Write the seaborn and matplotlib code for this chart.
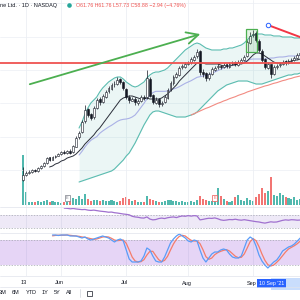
import numpy as np
import pandas as pd
import matplotlib
matplotlib.use("Agg")
import matplotlib.pyplot as plt
from matplotlib.lines import Line2D
from matplotlib.patches import Rectangle
import seaborn as sns

sns.set_theme(style="white")
plt.rcParams["font.family"] = ["Liberation Sans", "DejaVu Sans"]

# daily bars, 12 May - 24 Sep 2021
holidays = pd.to_datetime(["2021-05-31", "2021-07-05", "2021-09-06"])
dates = pd.bdate_range("2021-05-12", "2021-09-24")
dates = dates[~dates.isin(holidays)]

opens = [27.0, 28.6, 29.0, 29.5, 30.1, 29.8, 30.5, 31.3, 32.0, 33.8,
         33.1, 33.8, 34.3, 34.9, 35.5, 35.0, 35.8, 35.4, 37.0, 39.8,
         41.3, 44.6, 48.2, 46.8, 45.8, 48.5, 51.2, 50.3, 52.0, 53.6,
         54.4, 55.7, 55.9, 57.2, 56.5, 54.4, 52.0, 50.8, 51.4, 50.2,
         50.6, 52.0, 51.8, 57.4, 52.4, 50.2, 51.2, 49.7, 50.3, 51.7,
         54.2, 56.0, 58.0, 58.6, 60.8, 61.0, 61.9, 62.3, 63.1, 64.1,
         65.6, 59.3, 59.0, 57.5, 58.9, 60.1, 60.8, 61.3, 60.8, 61.7,
         61.0, 61.9, 62.3, 61.6, 62.5, 62.9, 64.1, 68.2, 70.4, 71.0,
         68.8, 65.8, 63.2, 60.7, 61.76, 58.7, 61.0, 61.4, 61.7, 62.6,
         62.0, 62.8, 63.1, 63.5, 64.6]
highs = [31.0, 29.6, 29.9, 30.4, 30.4, 31.0, 31.6, 32.5, 34.0, 34.0,
         34.3, 34.6, 35.2, 35.8, 35.9, 36.1, 36.2, 37.6, 40.2, 41.8,
         45.0, 49.5, 48.6, 47.2, 49.2, 51.6, 51.8, 52.8, 54.0, 55.2,
         56.1, 56.6, 57.8, 57.6, 56.8, 54.6, 52.6, 52.0, 51.9, 51.3,
         52.6, 52.4, 60.0, 57.8, 52.9, 51.8, 51.5, 50.7, 52.4, 54.6,
         56.6, 58.4, 59.4, 61.2, 61.7, 62.3, 62.6, 63.8, 64.5, 66.2,
         65.9, 60.2, 59.5, 59.3, 60.8, 61.2, 61.7, 61.6, 62.0, 61.9,
         62.3, 62.6, 62.6, 62.9, 63.5, 64.4, 69.0, 71.4, 71.9, 71.6,
         69.2, 66.2, 63.5, 62.4, 61.76, 61.4, 61.8, 62.3, 62.9, 63.0,
         63.2, 63.5, 64.1, 65.0, 65.7]
lows = [26.8, 28.3, 28.8, 29.2, 29.3, 29.5, 30.2, 31.0, 31.8, 32.6,
        32.9, 33.6, 34.1, 34.6, 34.7, 34.8, 34.7, 35.2, 36.8, 39.3,
        41.0, 44.2, 46.0, 44.9, 45.4, 48.2, 49.6, 50.0, 51.6, 53.2,
        54.0, 55.0, 55.5, 55.9, 54.0, 51.2, 50.2, 50.6, 49.6, 49.6,
        50.3, 51.0, 51.4, 51.8, 49.8, 49.8, 49.0, 49.2, 50.0, 51.4,
        53.8, 55.6, 57.6, 58.2, 60.4, 60.6, 61.4, 61.9, 62.8, 63.6,
        58.6, 57.8, 56.6, 57.0, 58.4, 59.8, 60.3, 60.3, 60.5, 60.7,
        60.6, 61.4, 61.2, 61.2, 62.1, 62.6, 63.8, 67.7, 69.8, 68.4,
        65.4, 62.4, 60.2, 60.4, 57.73, 58.4, 60.4, 61.0, 61.4, 61.5,
        61.7, 62.4, 62.8, 63.2, 64.2]
closes = [28.5, 29.1, 29.4, 30.0, 29.7, 30.6, 31.2, 32.1, 33.6, 33.0,
          33.9, 34.2, 34.8, 35.4, 35.1, 35.7, 35.1, 37.2, 39.6, 41.1,
          44.4, 48.0, 46.5, 45.6, 48.6, 51.0, 50.4, 52.2, 53.4, 54.6,
          55.5, 55.8, 57.0, 56.4, 54.6, 51.9, 51.0, 51.3, 50.4, 50.7,
          51.9, 51.6, 57.6, 52.2, 50.4, 51.0, 49.8, 50.1, 51.9, 54.0,
          56.1, 57.9, 58.8, 60.6, 61.2, 61.8, 62.1, 63.3, 63.9, 65.4,
          59.4, 58.8, 57.6, 58.8, 60.3, 60.6, 61.2, 60.9, 61.5, 61.2,
          61.8, 62.1, 61.8, 62.4, 63.0, 63.9, 68.4, 70.2, 70.8, 69.0,
          66.0, 63.0, 60.9, 61.8, 58.88, 60.9, 61.2, 61.8, 62.4, 62.1,
          62.7, 63.0, 63.6, 64.5, 65.1]
volume_m = [10.0, 2.6, 0.6, 0.6, 0.6, 0.8, 0.6, 0.8, 1.0, 0.6,
            0.8, 0.6, 0.6, 0.4, 0.6, 0.6, 0.8, 1.4, 1.2, 1.8,
            1.2, 2.2, 1.2, 0.8, 1.0, 1.0, 0.8, 1.0, 0.8, 0.8,
            1.0, 0.8, 0.6, 0.8, 1.4, 1.6, 1.2, 0.8, 1.0, 0.6,
            0.6, 0.6, 1.8, 1.2, 1.0, 0.8, 0.6, 0.6, 0.8, 1.0,
            1.0, 0.8, 0.8, 0.6, 0.8, 0.6, 0.6, 0.8, 0.6, 1.0,
            1.8, 1.2, 1.0, 0.8, 0.8, 1.2, 3.4, 1.8, 1.2, 0.8,
            0.6, 0.8, 1.6, 2.0, 1.0, 0.8, 1.4, 1.0, 0.8, 1.6,
            2.2, 3.4, 2.4, 2.8, 5.6, 2.0, 1.8, 2.4, 2.0, 1.6,
            1.4, 1.2, 1.6, 1.0, 1.2]

# black moving average (from bar 9)
ma_fast = [30.9, 31.2, 31.8, 32.1, 32.7, 33.0, 33.6, 33.9, 34.2, 34.8,
           35.7, 36.6, 37.8, 38.7, 39.6, 40.5, 41.7, 42.6, 43.8, 45.0,
           46.2, 47.4, 48.6, 49.8, 51.0, 51.6, 51.9, 52.2, 52.2, 51.9,
           51.6, 51.3, 51.3, 51.6, 51.3, 51.3, 51.3, 51.3, 51.6, 52.2,
           52.8, 53.7, 54.6, 55.5, 56.7, 57.6, 58.5, 59.4, 60.3, 61.2,
           62.1, 62.1, 62.1, 61.8, 61.8, 61.8, 61.8, 61.8, 61.5, 61.2,
           61.2, 61.2, 61.5, 61.5, 61.8, 61.8, 62.1, 62.7, 63.6, 64.5,
           65.1, 65.1, 64.8, 64.2, 63.6, 63.0, 62.4, 62.1, 62.1, 62.1,
           62.4, 62.4, 62.7, 63.0, 63.0, 63.3]
# Bollinger bands (from bar 19)
bb_upper = [42.6, 44.4, 46.8, 48.6, 50.1, 51.0, 51.9, 53.4, 54.6, 55.5,
            56.4, 57.0, 57.6, 57.9, 57.9, 57.3, 56.4, 55.8, 55.2, 54.9,
            55.2, 55.8, 56.4, 57.6, 58.5, 59.1, 59.4, 59.4, 59.7, 60.0,
            60.6, 61.5, 62.4, 63.3, 64.2, 65.1, 66.0, 66.6, 67.2, 67.8,
            68.1, 67.8, 67.2, 66.6, 66.3, 66.0, 66.0, 66.0, 66.0, 66.3,
            66.3, 66.6, 66.6, 66.9, 67.2, 67.5, 68.1, 69.0, 69.9, 70.5,
            70.8, 70.8, 70.8, 70.5, 70.5, 70.5, 70.2, 70.2, 70.2, 69.9,
            69.9, 69.9, 69.9, 69.6, 69.6, 69.6]
bb_basis = [34.5, 35.6, 36.9, 38.0, 38.9, 39.5, 40.0, 41.0, 41.7, 42.3,
            42.9, 43.4, 44.0, 44.6, 45.0, 45.2, 45.3, 45.5, 45.9, 46.5,
            47.6, 48.8, 50.0, 51.3, 52.5, 53.2, 53.6, 53.6, 53.6, 53.6,
            53.7, 54.0, 54.3, 54.6, 55.0, 55.5, 56.0, 56.4, 56.8, 57.3,
            57.8, 58.0, 58.2, 58.4, 58.6, 59.0, 59.4, 59.8, 60.2, 60.6,
            60.9, 61.2, 61.4, 61.6, 62.0, 62.1, 62.4, 62.8, 63.2, 63.3,
            63.3, 63.3, 63.3, 63.3, 63.4, 63.6, 63.6, 63.8, 63.9, 63.9,
            64.0, 64.2, 64.2, 64.2, 64.2, 64.4]
bb_lower = [26.4, 26.7, 27.0, 27.3, 27.6, 27.9, 28.2, 28.5, 28.8, 29.1,
            29.4, 29.7, 30.3, 31.2, 32.1, 33.0, 34.2, 35.1, 36.6, 38.1,
            39.9, 41.7, 43.5, 45.0, 46.5, 47.4, 47.7, 47.7, 47.4, 47.1,
            46.8, 46.5, 46.2, 45.9, 45.9, 45.9, 45.9, 46.2, 46.5, 46.8,
            47.4, 48.3, 49.2, 50.1, 51.0, 51.9, 52.8, 53.7, 54.3, 54.9,
            55.5, 55.8, 56.1, 56.4, 56.7, 56.7, 56.7, 56.7, 56.4, 56.1,
            55.8, 55.8, 55.8, 56.1, 56.4, 56.7, 57.0, 57.3, 57.6, 57.9,
            58.2, 58.5, 58.5, 58.8, 58.8, 59.1]
# red moving average (from bar 57)
ma_slow = [46.5, 46.9, 47.3, 47.7, 48.1, 48.5, 48.8, 49.2, 49.6, 50.0,
           50.3, 50.7, 51.0, 51.4, 51.7, 52.0, 52.4, 52.7, 53.0, 53.4,
           53.7, 54.0, 54.3, 54.6, 54.9, 55.2, 55.4, 55.7, 56.0, 56.2,
           56.5, 56.8, 57.0, 57.3, 57.5, 57.8, 58.0, 58.2]
# RSI (from bar 14)
rsi = [91.0, 90.5, 89.0, 90.0, 88.5, 87.5, 86.5, 87.0, 85.0, 84.0,
       85.0, 83.5, 82.0, 81.0, 80.0, 78.5, 79.0, 77.0, 76.0, 74.5,
       73.0, 72.0, 70.5, 66.0, 64.0, 63.0, 61.0, 60.5, 64.0, 57.5,
       55.0, 56.0, 59.0, 60.5, 59.0, 61.5, 63.0, 64.0, 62.0, 65.0,
       67.0, 66.0, 68.0, 66.5, 68.0, 67.0, 55.0, 56.5, 58.5, 60.0,
       59.5, 61.0, 58.5, 55.0, 53.5, 54.5, 56.0, 55.5, 57.0, 55.0,
       54.0, 55.5, 54.0, 52.5, 51.0, 49.5, 48.5, 46.5, 45.0, 47.0,
       49.0, 48.0, 48.5, 51.0, 53.5, 55.0, 54.0, 55.5, 55.0, 54.0,
       54.5]
# Stoch RSI %K / %D (from bar 10)
stoch_k = [92.0, 92.0, 90.8, 92.0, 92.0, 92.0, 89.6, 89.6, 89.6, 87.2,
           84.8, 87.2, 82.4, 80.0, 82.4, 84.8, 87.2, 89.6, 87.2, 84.8,
           80.0, 75.2, 80.0, 82.4, 77.6, 56.0, 34.4, 27.2, 27.2, 27.2,
           29.6, 41.6, 60.8, 56.0, 41.6, 29.6, 27.2, 27.2, 39.2, 56.0,
           72.8, 82.4, 89.6, 94.4, 89.6, 84.8, 77.6, 75.2, 80.0, 77.6,
           56.0, 36.8, 27.2, 36.8, 46.4, 51.2, 51.2, 56.0, 58.4, 56.0,
           46.4, 39.2, 36.8, 36.8, 41.6, 60.8, 80.0, 87.2, 82.4, 65.6,
           44.0, 29.6, 20.0, 12.8, 20.0, 27.2, 32.0, 41.6, 53.6, 58.4,
           63.2, 65.6, 70.4, 77.6, 84.8]
stoch_d = [90.0, 91.0, 91.5, 91.5, 91.6, 92.0, 91.2, 90.4, 89.6, 88.8,
           87.2, 86.4, 84.8, 83.2, 81.6, 82.4, 84.8, 87.2, 88.0, 87.2,
           84.0, 80.0, 78.4, 79.2, 80.0, 72.0, 56.0, 39.2, 29.6, 27.2,
           28.0, 32.8, 44.0, 52.8, 52.8, 42.4, 32.8, 28.0, 31.2, 40.8,
           56.0, 70.4, 81.6, 88.8, 91.2, 89.6, 84.0, 79.2, 77.6, 77.6,
           71.2, 56.8, 40.0, 33.6, 36.8, 44.8, 49.6, 52.8, 55.2, 56.8,
           53.6, 47.2, 40.8, 37.6, 38.4, 46.4, 60.8, 76.0, 83.2, 78.4,
           64.0, 46.4, 31.2, 20.8, 17.6, 20.0, 26.4, 33.6, 42.4, 51.2,
           58.4, 62.4, 66.4, 71.2, 77.6]

# user drawings (bar index, price)
hline_price = 62.1
trend_x, trend_y = [1.4, 61.0], [55.5, 71.0]
box_x, box_y = [75.6, 79.3], [65.4, 72.3]
ray_x, ray_y = [83.0, 94.5], [73.5, 69.7]
earn_bars = [15, 65]

tick_dates = ["2021-05-13", "2021-06-01", "2021-07-01", "2021-08-02", "2021-09-01"]
tick_labels = ["13", "Jun", "Jul", "Aug", "Sep"]
cross_date = "2021-09-10"

# ---- layout ----
x = np.arange(len(dates))
up = np.array(closes) >= np.array(opens)
ticks = [dates.get_loc(pd.Timestamp(d)) for d in tick_dates]
cross = dates.get_loc(pd.Timestamp(cross_date))
XL = (-7.8, 93.9)

fig = plt.figure(figsize=(3, 3), dpi=100)
fig.patch.set_facecolor("white")


def pane(top, bottom):
    a = fig.add_axes([0, 1 - bottom / 300, 1, (bottom - top) / 300])
    a.set_xlim(*XL)
    a.set_axis_off()
    return a


ax_v = pane(0, 208)
ax_p = pane(0, 208)
ax_r = pane(208, 233)
ax_s = pane(233, 276)
ax_t = pane(276, 300)

grid_c = "#eceff4"
for a in (ax_p, ax_r, ax_s):
    for t in ticks:
        a.axvline(t, color=grid_c, lw=0.6, zorder=0)

# volume
ax_v.set_ylim(-0.6, 41)
ax_v.bar(x, volume_m, width=0.7, color=np.where(up, "#26a69a", "#ef5350"), alpha=0.8, linewidth=0)
for b, c in zip(earn_bars, ["#787b86", "#ef5350"]):
    ax_v.text(b, 1.4, "E", fontsize=2.8, ha="center", va="center", color=c,
              bbox=dict(boxstyle="square,pad=0.3", fc="white", ec=c, lw=0.5))

# price
ax_p.set_ylim(18.6, 81)
for p in (30, 40, 50, 60, 70, 80):
    ax_p.axhline(p, color=grid_c, lw=0.5, zorder=0)
bx = x[19:]
ax_p.fill_between(bx, bb_lower, bb_upper, color="#26a69a", alpha=0.09, linewidth=0, zorder=1)
sns.lineplot(x=bx, y=bb_upper, ax=ax_p, color="#5bbcb0", linewidth=0.8, zorder=2)
sns.lineplot(x=bx, y=bb_lower, ax=ax_p, color="#5bbcb0", linewidth=0.8, zorder=2)
sns.lineplot(x=bx, y=bb_basis, ax=ax_p, color="#aab1e6", linewidth=0.8, zorder=2)
sns.lineplot(x=x[57:], y=ma_slow, ax=ax_p, color="#f28b82", linewidth=0.8, zorder=2)
sns.lineplot(x=x[9:], y=ma_fast, ax=ax_p, color="#2a2e39", linewidth=0.7, zorder=3)

ax_p.vlines(x, lows, highs, color="#131722", linewidth=0.5, zorder=4)
body_lo = np.minimum(opens, closes)
body_h = np.maximum(np.abs(np.array(closes) - np.array(opens)), 0.15)
ax_p.bar(x, body_h, bottom=body_lo, width=0.62, color=np.where(up, "white", "#131722"),
         edgecolor="#131722", linewidth=0.4, zorder=5)

ax_p.axhline(hline_price, color="#ef5350", lw=1.3, zorder=6)
ax_p.annotate("", xy=(trend_x[1], trend_y[1]), xytext=(trend_x[0], trend_y[0]),
              arrowprops=dict(arrowstyle="->,head_length=0.7,head_width=0.35", color="#4caf50", lw=1.3),
              zorder=6)
ax_p.add_patch(Rectangle((box_x[0], box_y[0]), box_x[1] - box_x[0], box_y[1] - box_y[0],
                         fc=(0.3, 0.69, 0.31, 0.15), ec="#4caf50", lw=0.9, zorder=6))
ax_p.plot(ray_x, ray_y, color="#f23645", lw=1.4, zorder=6, solid_capstyle="butt")
ax_p.plot(ray_x[0], ray_y[0], "o", ms=3.2, mfc="white", mec="#2962ff", mew=0.7, zorder=7)

# RSI pane
ax_r.set_ylim(14.6, 91.5)
ax_r.axhspan(30, 70, color="#7e57c2", alpha=0.13, lw=0)
for lvl in (30, 70):
    ax_r.axhline(lvl, color="#a3a6af", lw=0.5, ls=(0, (2, 2)))
sns.lineplot(x=x[14:], y=rsi, ax=ax_r, color="#a070cf", linewidth=0.9)

# Stoch RSI pane
ax_s.set_ylim(-6.4, 96.8)
ax_s.axhspan(20, 80, color="#8e44d8", alpha=0.22, lw=0)
for lvl in (20, 80):
    ax_s.axhline(lvl, color="#a3a6af", lw=0.5, ls=(0, (2, 2)))
sns.lineplot(x=x[10:], y=stoch_d, ax=ax_s, color="#f57c6b", linewidth=0.9)
sns.lineplot(x=x[10:], y=stoch_k, ax=ax_s, color="#5a9cf8", linewidth=0.9)

# time axis
ax_t.set_ylim(24, 0)
for t, lab in zip(ticks, tick_labels):
    ax_t.text(t - 0.6, 7, lab, fontsize=4, ha="center", va="center", color="#131722")
ax_t.add_patch(Rectangle((cross, 1.5), 20, 12, fc="#c9ddfc", ec="none"))
ax_t.text(cross + 0.3, 7.5, "10 Sep '21", fontsize=3.8, ha="center", va="center", color="white",
          bbox=dict(boxstyle="square,pad=0.4", fc="#2962ff", ec="none"))

# pane separators
for ypx in (207, 233, 276, 287):
    fig.add_artist(Line2D([0, 1], [1 - ypx / 300] * 2, color="#e0e3eb", lw=0.5))

# header and toolbar
fig.text(0.5 / 300, 1 - 5 / 300, "ne Ltd. \u00b7 1D \u00b7 NASDAQ", fontsize=4, color="#131722", va="center")
fig.add_artist(Line2D([69 / 300], [1 - 5 / 300], marker="o", ms=2.3, color="#26a69a", lw=0))
fig.text(76 / 300, 1 - 5 / 300, "O61.76 H61.76 L57.73 C58.88 \u22122.94 (\u22124.76%)",
         fontsize=3.8, color="#ef5350", va="center")
for xp, lab in zip([3, 16, 31, 45, 57, 69], ["3M", "6M", "YTD", "1Y", "5Y", "All"]):
    fig.text(xp / 300, 1 - 293 / 300, lab, fontsize=4, color="#131722", ha="center", va="center")
fig.add_artist(Line2D([80 / 300] * 2, [1 - 289 / 300, 1 - 297 / 300], color="#d1d4dc", lw=0.5))
fig.add_artist(Rectangle((87 / 300, 1 - 296 / 300), 5 / 300, 5 / 300, fill=False, ec="#131722", lw=0.5))

fig.savefig("out.png", dpi=100, facecolor="white")
